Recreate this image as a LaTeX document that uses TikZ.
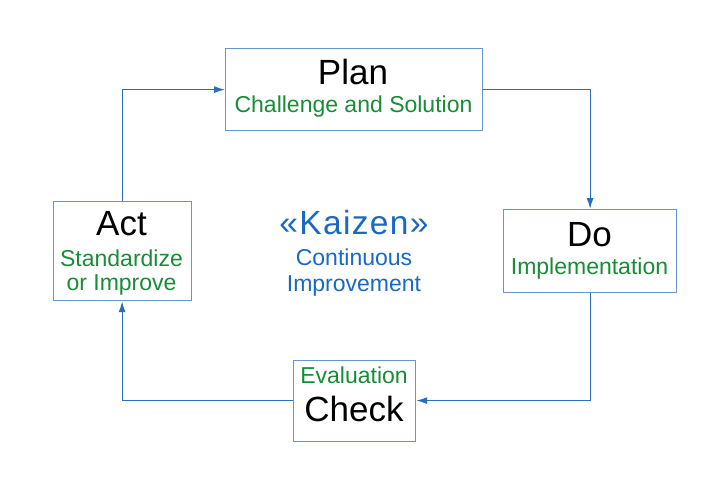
\documentclass[tikz,border=0pt]{standalone}
\usepackage{fontspec}
\setmainfont{Liberation Sans}
\usetikzlibrary{arrows.meta}
\definecolor{lineblue}{RGB}{40,110,195}
\definecolor{boxblue}{RGB}{100,150,210}
\definecolor{txtgreen}{RGB}{25,140,55}
\definecolor{txtblue}{RGB}{25,105,195}
\begin{document}
\begin{tikzpicture}[x=1pt,y=-1pt,
  box/.style={draw=boxblue, line width=1.2pt, inner sep=0pt, anchor=north west},
  big/.style={font=\fontsize{35}{40}\selectfont, inner sep=0pt, anchor=base},
  sub/.style={font=\fontsize{23}{26}\selectfont, text=txtgreen, inner sep=0pt, anchor=base},
  bsub/.style={font=\fontsize{23}{26}\selectfont, text=txtblue, inner sep=0pt, anchor=base},
  flow/.style={draw=lineblue, line width=1.2pt, -{Latex[length=11pt,width=7pt]}}]
\useasboundingbox[fill=white] (0,0) rectangle (707,500);
% boxes
\node[box, minimum width=257pt, minimum height=82pt] (plan) at (225,48) {};
\node[box, minimum width=138pt, minimum height=99.5pt] (act) at (52.5,200.5) {};
\node[box, minimum width=173pt, minimum height=82.5pt] (do) at (503,209) {};
\node[box, minimum width=122pt, minimum height=81pt] (check) at (293,359.5) {};
% texts
\node[big] (plant) at (353,85) {Plan};
\node[sub] (plans) at (353.5,113) {Challenge and Solution};
\node[big] (actt) at (121.5,235) {Act};
\node[sub] (acts1) at (121.5,266.5) {Standardize};
\node[sub] (acts2) at (121.5,290) {or Improve};
\node[big] (dot) at (589.5,246.5) {Do};
\node[sub] (dos) at (589.5,274) {Implementation};
\node[sub] (checks) at (354,383) {Evaluation};
\node[big] (checkt) at (354,421.5) {Check};
\node[inner sep=0pt, anchor=base, text=txtblue, font=\fontsize{33.5}{38}\selectfont\addfontfeature{LetterSpace=4}] (kaizen) at (354,234) {«Kaizen»};
\node[bsub] (cont) at (354,265.5) {Continuous};
\node[bsub] (impr) at (354,291.5) {Improvement};
% connectors
\draw[flow] (plan.east) -| (do.north);
\draw[flow] (do.south) |- (check.east);
\draw[flow] (check.west) -| (act.south);
\draw[flow] (act.north) |- (plan.west);
\end{tikzpicture}
\end{document}
